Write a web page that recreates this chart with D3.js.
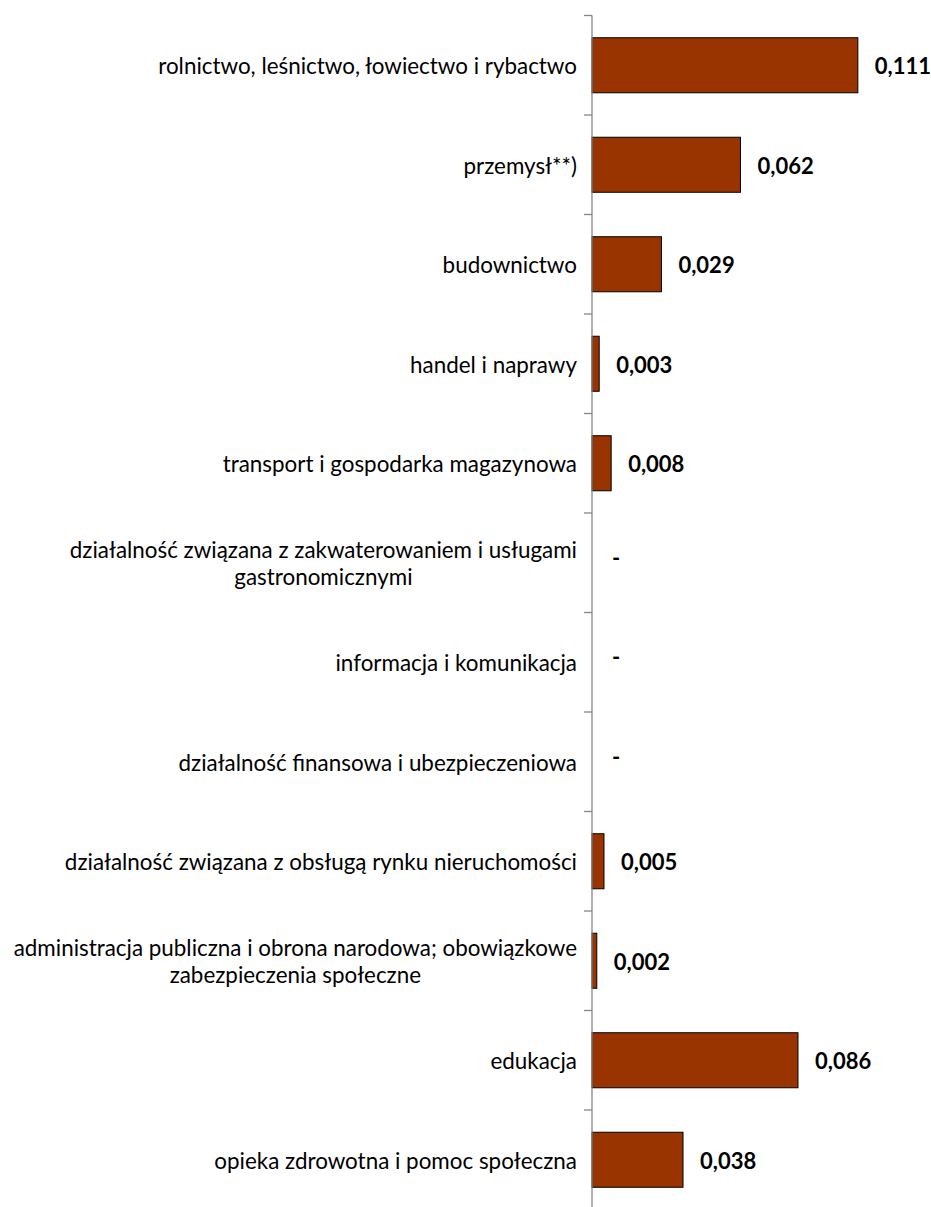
<!DOCTYPE html>
<html>
<head>
<meta charset="utf-8">
<script src="https://cdn.jsdelivr.net/npm/d3@7"></script>
<style>
  html, body { margin: 0; padding: 0; background: #fff; }
  svg { display: block; }
  text { font-family: Lato, "Open Sans", sans-serif; }
</style>
</head>
<body>
<svg id="chart" width="931" height="1207"></svg>
<script>
const categories = [
  "rolnictwo, leśnictwo, łowiectwo i rybactwo",
  "przemysł**)",
  "budownictwo",
  "handel i naprawy",
  "transport i gospodarka magazynowa",
  "działalność związana z zakwaterowaniem i usługami\ngastronomicznymi",
  "informacja i komunikacja",
  "działalność finansowa i ubezpieczeniowa",
  "działalność związana z obsługą rynku nieruchomości",
  "administracja publiczna i obrona narodowa; obowiązkowe\nzabezpieczenia społeczne",
  "edukacja",
  "opieka zdrowotna i pomoc społeczna"
];
const values = [0.111, 0.062, 0.029, 0.003, 0.008, 0, 0, 0, 0.005, 0.002, 0.086, 0.038];
const valueLabels = ["0,111", "0,062", "0,029", "0,003", "0,008", "-", "-", "-", "0,005", "0,002", "0,086", "0,038"];

const svg = d3.select("#chart");
const x0 = 592, plotTop = 15.5, band = 99.5;
const x = d3.scaleLinear().domain([0, 0.12]).range([x0, x0 + 0.12 * 2395]);
const y = d3.scaleBand().domain(d3.range(categories.length))
  .range([plotTop, plotTop + band * categories.length]).paddingInner(0.447).paddingOuter(0.2235);

const data = categories.map((c, i) => ({ i, c, v: values[i], l: valueLabels[i] }));

// bars
svg.append("g").selectAll("rect").data(data.filter(d => d.v > 0)).join("rect")
  .attr("x", x(0))
  .attr("y", d => y(d.i))
  .attr("width", d => x(d.v) - x(0))
  .attr("height", y.bandwidth())
  .attr("fill", "#993300")
  .attr("stroke", "#000")
  .attr("stroke-width", 1);

// axis line + ticks at band boundaries
const axisG = svg.append("g");
axisG.append("line")
  .attr("x1", x0).attr("x2", x0)
  .attr("y1", plotTop).attr("y2", plotTop + band * categories.length)
  .attr("stroke", "#868686").attr("stroke-width", 1.3);
axisG.selectAll("line.tick").data(d3.range(categories.length + 1)).join("line")
  .attr("class", "tick")
  .attr("x1", x0 - 8).attr("x2", x0)
  .attr("y1", d => plotTop + d * band).attr("y2", d => plotTop + d * band)
  .attr("stroke", "#868686").attr("stroke-width", 1.3);

// category labels
const fs = 22.4;
const labels = svg.append("g").selectAll("g").data(data).join("g")
  .attr("transform", d => `translate(0,${y(d.i) + y.bandwidth() / 2})`);
labels.each(function(d) {
  const lines = d.c.split("\n");
  const g = d3.select(this);
  if (lines.length === 1) {
    g.append("text")
      .attr("x", 577).attr("y", 8.75)
      .attr("text-anchor", "end")
      .attr("font-size", fs).attr("fill", "#000")
      .text(lines[0]);
  } else {
    const t1 = g.append("text").attr("font-size", fs).attr("fill", "#000")
      .attr("text-anchor", "middle").text(lines[0]).attr("y", 8.75 - 13.5);
    const w = t1.node().getComputedTextLength();
    const cx = 577 - w / 2;
    t1.attr("x", cx);
    g.append("text").attr("font-size", fs).attr("fill", "#000")
      .attr("text-anchor", "middle").attr("x", cx).attr("y", 8.75 + 13.5)
      .text(lines[1]);
  }
});

// value labels
svg.append("g").selectAll("text").data(data).join("text")
  .attr("x", d => x(d.v) + (d.v > 0 ? 17 : 20))
  .attr("y", d => y(d.i) + y.bandwidth() / 2 + (d.v > 0 ? 8.75 : 3))
  .attr("font-size", 22).attr("font-weight", "bold").attr("fill", "#000")
  .text(d => d.l);
</script>
</body>
</html>
